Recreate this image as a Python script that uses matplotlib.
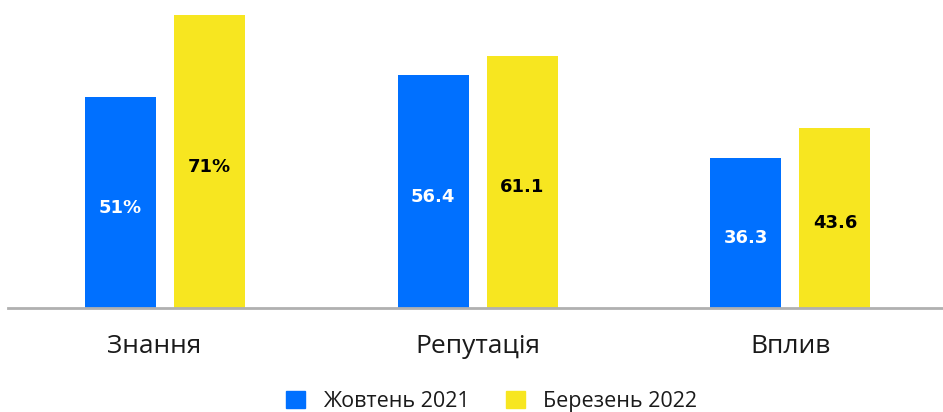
import numpy as np
import matplotlib.pyplot as plt
import matplotlib.transforms as mtransforms
from matplotlib.patches import Rectangle

categories = ['Знання', 'Репутація', 'Вплив']
oct_2021 = [51, 56.4, 36.3]
mar_2022 = [71, 61.1, 43.6]
oct_labels = ['51%', '56.4', '36.3']
mar_labels = ['71%', '61.1', '43.6']
series_names = ['Жовтень 2021', 'Березень 2022']

blue = '#0070FF'
yellow = '#F7E620'

plt.rcParams['font.family'] = ['Open Sans', 'DejaVu Sans']

fig = plt.figure(figsize=(9.43, 4.12), dpi=100)
ax = fig.add_axes([8 / 943, 1 - 308 / 412, 935 / 943, 308 / 412])

x = np.arange(len(categories))
w = 0.227
off = 0.1424
ax.bar(x - off, oct_2021, w, color=blue)
ax.bar(x + off, mar_2022, w, color=yellow)

# value labels inside bars
for xi, h, lab in zip(x, oct_2021, oct_labels):
    ax.text(xi - off, h / 2 - 1.3, lab, ha='center', va='center', color='white',
            fontsize=13, fontweight='bold', family='DejaVu Sans')
for xi, h, lab in zip(x, mar_2022, mar_labels):
    ax.text(xi + off, h / 2 - 1.3, lab, ha='center', va='center', color='black',
            fontsize=13, fontweight='bold', family='DejaVu Sans')

ax.set_xlim(-0.5024, 2.488)
ax.set_ylim(0, 74.6)
ax.set_xticks(x)
ax.set_xticklabels(categories, fontsize=19, color='#1a1a1a')
ax.tick_params(axis='x', length=0, pad=19)
# first label sits a little left of its group in the original
first = ax.get_xticklabels()[0]
first.set_transform(first.get_transform() +
                    mtransforms.ScaledTranslation(-0.11, 0, fig.dpi_scale_trans))
ax.set_yticks([])
for s in ['top', 'right', 'left']:
    ax.spines[s].set_visible(False)
ax.spines['bottom'].set_color('#b0b0b0')
ax.spines['bottom'].set_linewidth(2)

handles = [Rectangle((0, 0), 1, 1, color=blue), Rectangle((0, 0), 1, 1, color=yellow)]
fig.legend(handles, series_names, loc='lower center', bbox_to_anchor=(0.521, -0.047),
           ncol=2, frameon=False, fontsize=15.5, handlelength=0.9, handleheight=0.9,
           columnspacing=1.7, handletextpad=0.8, labelcolor='#1a1a1a')

fig.savefig('out.png', dpi=100)
